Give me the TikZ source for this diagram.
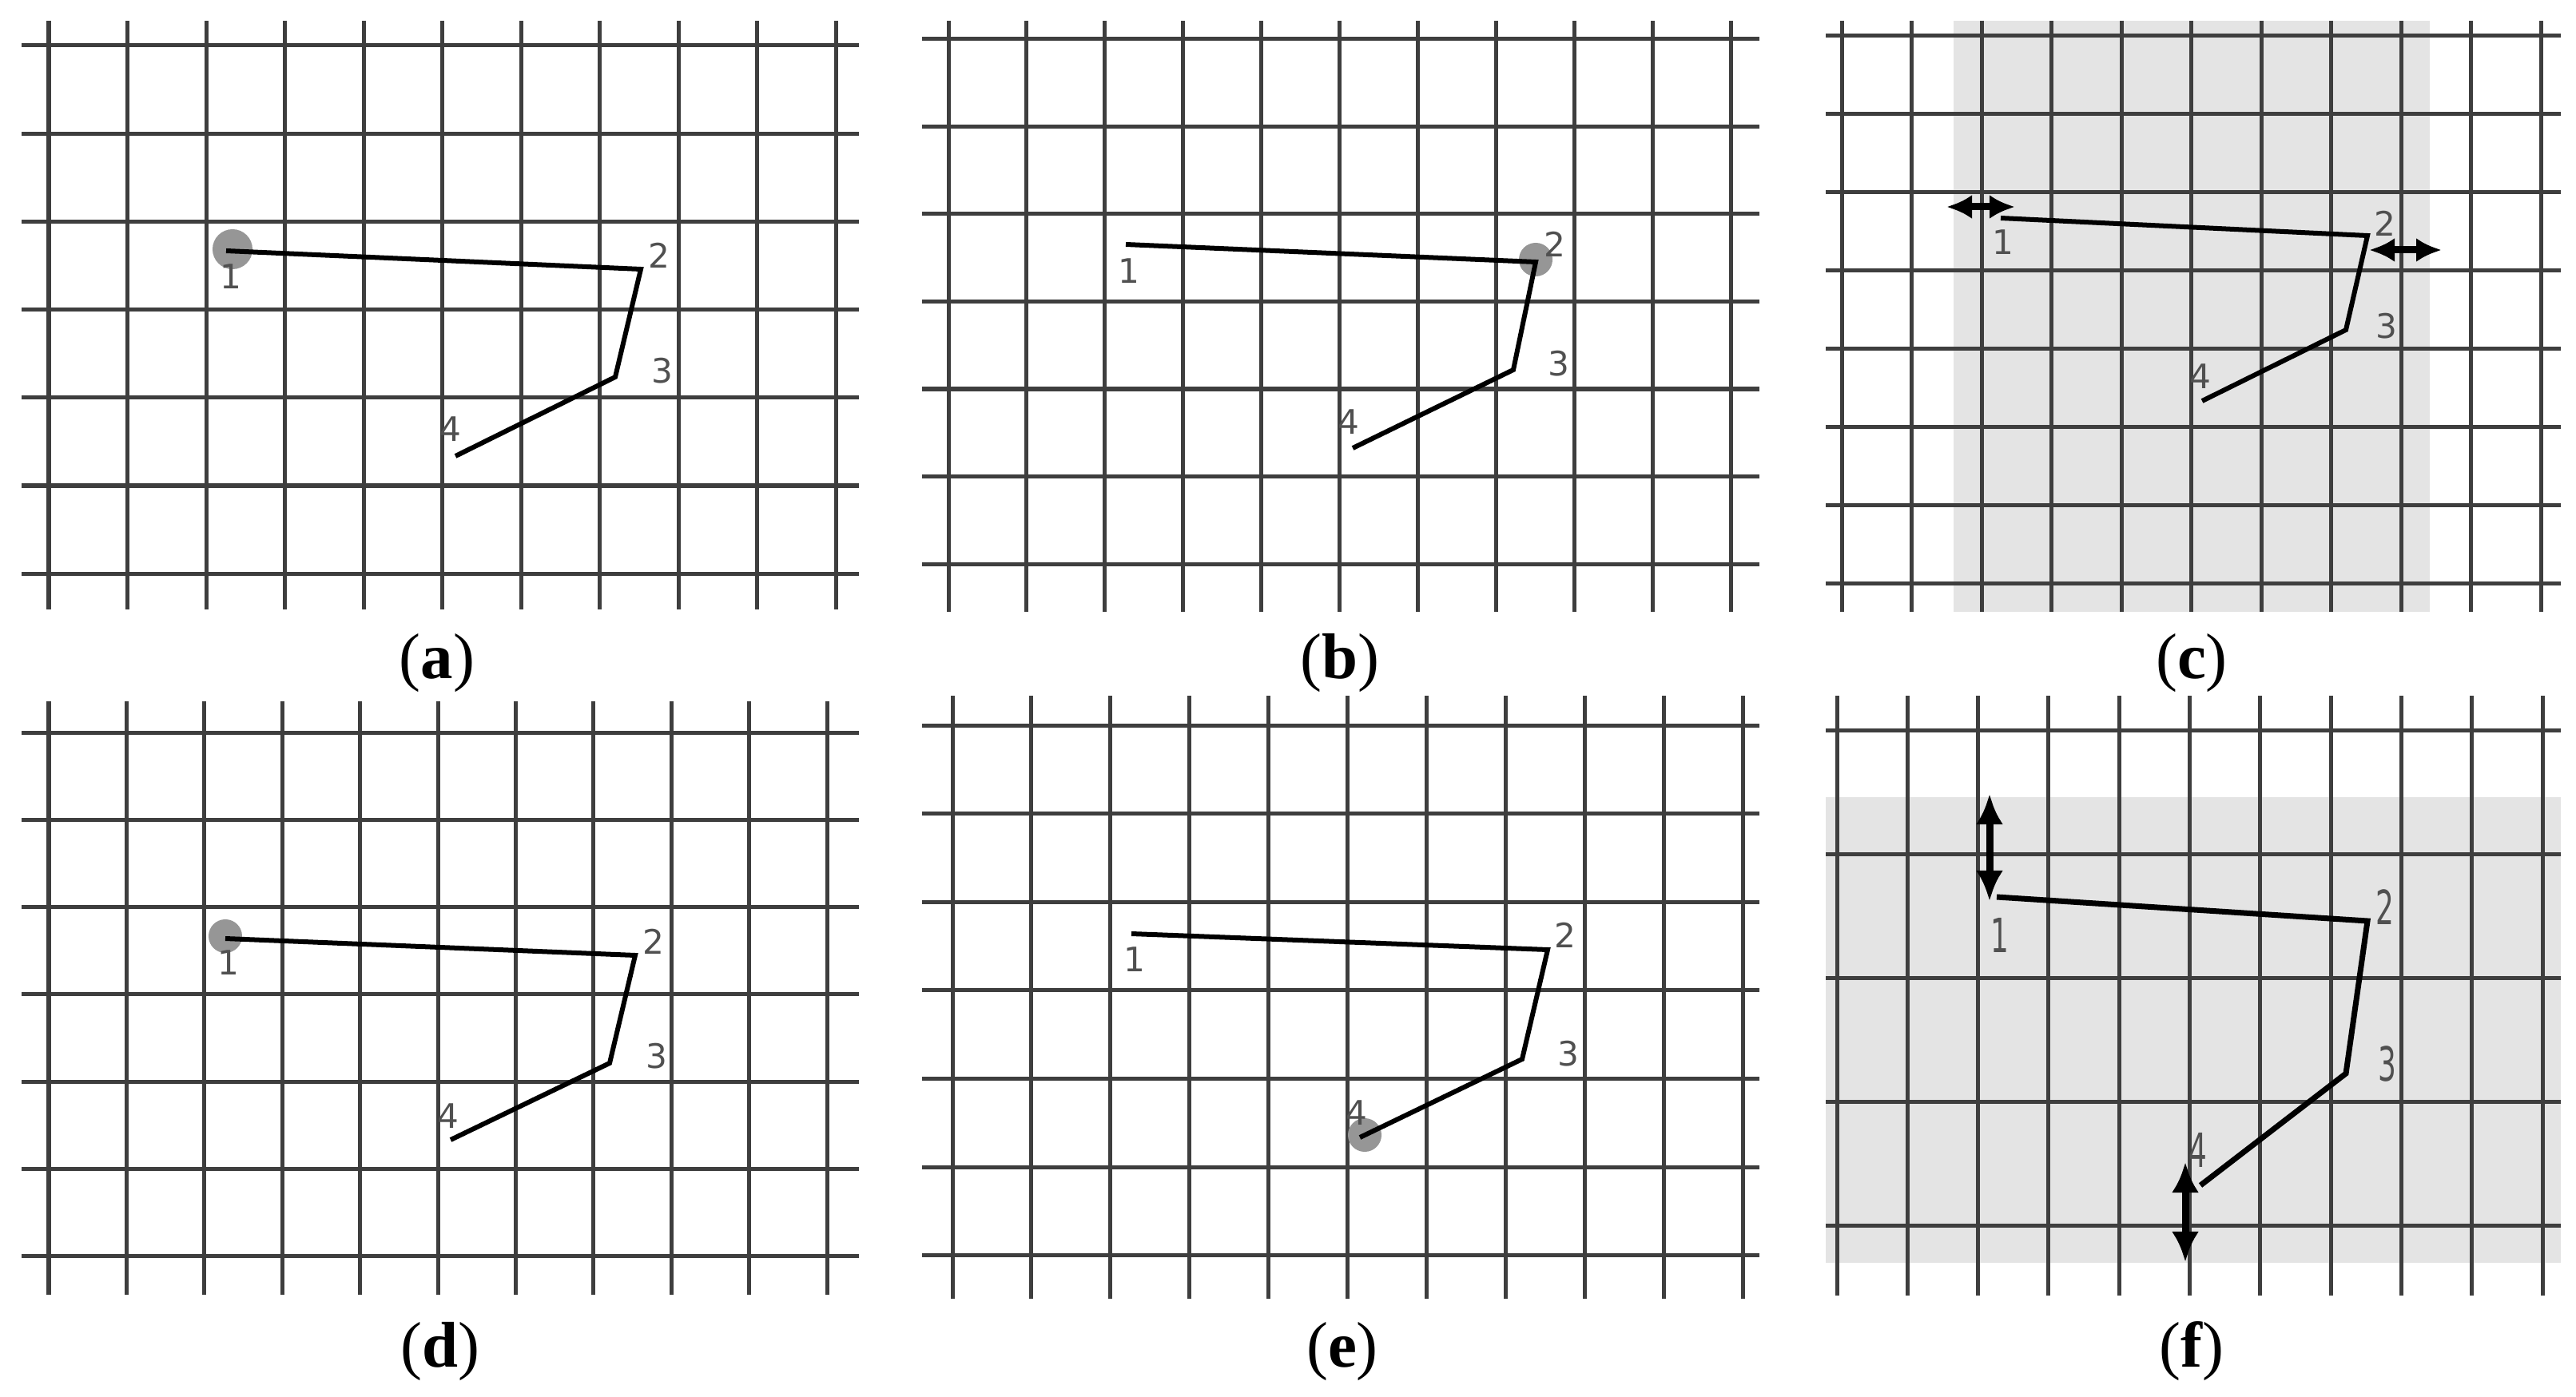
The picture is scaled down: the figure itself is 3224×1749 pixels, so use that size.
\documentclass[tikz,border=0pt]{standalone}
\usepackage{fontspec}
\setmainfont{Liberation Serif}
\newfontfamily\digitfont{DejaVu Sans}
\usepackage{graphicx}
\usepackage{tikz}
\usetikzlibrary{arrows.meta,positioning}
\usepackage{xcolor}
\definecolor{gridgray}{RGB}{62,62,62}
\definecolor{shadegray}{RGB}{228,228,228}
\definecolor{dotgray}{RGB}{150,150,150}
\definecolor{numgray}{RGB}{80,80,80}
\tikzstyle{gridline} = [line width=0.05cm, color=gridgray]
\tikzstyle{route} = [line width=0.06cm, black, line join=miter]
\tikzstyle{cursor} = [circle, fill=dotgray, inner sep=0pt, minimum size=0.5cm]
\tikzstyle{num} = [font=\digitfont\fontsize{12}{14}\selectfont, text=numgray, inner sep=0pt]
\tikzstyle{caption} = [font=\fontsize{23}{26}\selectfont, inner sep=0pt]
\tikzstyle{movearrow} = [line width=0.09cm, {Latex[length=0.32cm,width=0.3cm]}-{Latex[length=0.32cm,width=0.3cm]}]

\begin{document}
\begin{tikzpicture}[x=0.01cm, y=-0.01cm]
\useasboundingbox (0,0) rectangle (3224,1749);

% Shaded zones
\fill[shadegray] (2445,26) rectangle (3041,766);
\fill[shadegray] (2285,998) rectangle (3205,1581);

% Grids
\foreach \i in {0,...,10} \draw[gridline] ({61+98.5*\i},26) -- ({61+98.5*\i},763);
\foreach \j in {0,...,6} \draw[gridline] (27,{57+110.2*\j}) -- (1075,{57+110.2*\j});
\foreach \i in {0,...,10} \draw[gridline] ({1187+97.9*\i},26) -- ({1187+97.9*\i},766);
\foreach \j in {0,...,6} \draw[gridline] (1154,{49+109.5*\j}) -- (2202,{49+109.5*\j});
\foreach \i in {0,...,10} \draw[gridline] ({2305+87.5*\i},26) -- ({2305+87.5*\i},766);
\foreach \j in {0,...,7} \draw[gridline] (2285,{45+97.9*\j}) -- (3205,{45+97.9*\j});
\foreach \i in {0,...,10} \draw[gridline] ({61+97.4*\i},878) -- ({61+97.4*\i},1621);
\foreach \j in {0,...,6} \draw[gridline] (27,{917+109.3*\j}) -- (1075,{917+109.3*\j});
\foreach \i in {0,...,10} \draw[gridline] ({1192+98.9*\i},871) -- ({1192+98.9*\i},1626);
\foreach \j in {0,...,6} \draw[gridline] (1154,{908+110.6*\j}) -- (2202,{908+110.6*\j});
\foreach \i in {0,...,10} \draw[gridline] ({2299+88.3*\i},871) -- ({2299+88.3*\i},1622);
\foreach \j in {0,...,4} \draw[gridline] (2285,{914+155*\j}) -- (3205,{914+155*\j});

% Corner points
\coordinate (a1) at (283,314);
\coordinate (a2) at (802,337);
\coordinate (a3) at (770,472);
\coordinate (a4) at (570,571);
\coordinate (b1) at (1409,306);
\coordinate (b2) at (1922,328);
\coordinate (b3) at (1894,463);
\coordinate (b4) at (1693,561);
\coordinate (c1) at (2504,273);
\coordinate (c2) at (2963,295);
\coordinate (c3) at (2936,413);
\coordinate (c4) at (2756,502);
\coordinate (d1) at (282,1175);
\coordinate (d2) at (795,1196);
\coordinate (d3) at (763,1331);
\coordinate (d4) at (564,1427);
\coordinate (e1) at (1416,1169);
\coordinate (e2) at (1937,1189);
\coordinate (e3) at (1905,1326);
\coordinate (e4) at (1702,1424);
\coordinate (f1) at (2499,1123);
\coordinate (f2) at (2963,1153);
\coordinate (f3) at (2936,1344);
\coordinate (f4) at (2754,1484);

% Selected points
\node (sela) [cursor] at (291,312) {};
\node (selb) [cursor, minimum size=0.42cm] at (1922,325) {};
\node (seld) [cursor, minimum size=0.42cm] at (282,1172) {};
\node (sele) [cursor, minimum size=0.42cm] at (1708,1421) {};

% Routes
\draw[route] (a1) -- (a2) -- (a3) -- (a4);
\draw[route] (b1) -- (b2) -- (b3) -- (b4);
\draw[route] (c1) -- (c2) -- (c3) -- (c4);
\draw[route] (d1) -- (d2) -- (d3) -- (d4);
\draw[route] (e1) -- (e2) -- (e3) -- (e4);
\draw[route, line width=0.07cm] (f1) -- (f2) -- (f3) -- (f4);

% Moves
\coordinate (c1l) at (2436,259);
\coordinate (c1r) at (2522,259);
\coordinate (c2l) at (2965,313);
\coordinate (c2r) at (3056,313);
\coordinate (f1t) at (2490,994);
\coordinate (f1b) at (2490,1128);
\coordinate (f4t) at (2735,1455);
\coordinate (f4b) at (2735,1580);
\draw[movearrow] (c1l) -- (c1r);
\draw[movearrow] (c2l) -- (c2r);
\draw[movearrow, {Latex[length=0.38cm,width=0.34cm]}-{Latex[length=0.38cm,width=0.34cm]}] (f1t) -- (f1b);
\draw[movearrow, {Latex[length=0.38cm,width=0.34cm]}-{Latex[length=0.38cm,width=0.34cm]}] (f4t) -- (f4b);

% Point numbers
\node (na1) [num] at (289,346) {1};
\node (na2) [num] at (825,320) {2};
\node (na3) [num] at (829,464) {3};
\node (na4) [num] at (564,537) {4};
\node (nb1) [num] at (1413,339) {1};
\node (nb2) [num] at (1946,306) {2};
\node (nb3) [num] at (1951,455) {3};
\node (nb4) [num] at (1688,528) {4};
\node (nc1) [num] at (2507,303) {1};
\node (nc2) [num] at (2985,280) {2};
\node (nc3) [num] at (2987,408) {3};
\node (nc4) [num] at (2754,471) {4};
\node (nd1) [num] at (286,1205) {1};
\node (nd2) [num] at (818,1179) {2};
\node (nd3) [num] at (822,1322) {3};
\node (nd4) [num] at (561,1397) {4};
\node (ne1) [num] at (1420,1201) {1};
\node (ne2) [num] at (1959,1171) {2};
\node (ne3) [num] at (1963,1319) {3};
\node (ne4) [num] at (1698,1393) {4};
\node (nf1) [num] at (2503,1171) {\scalebox{0.85}[1.4]{1}};
\node (nf2) [num] at (2985,1136) {\scalebox{0.85}[1.4]{2}};
\node (nf3) [num] at (2988,1332) {\scalebox{0.85}[1.4]{3}};
\node (nf4) [num] at (2751,1440) {\scalebox{0.85}[1.4]{4}};

% Captions
\node (capa) [caption] at (547,830) {({\bfseries a})};
\node (capb) [caption] at (1677,830) {({\bfseries b})};
\node (capc) [caption] at (2743,830) {({\bfseries c})};
\node (capd) [caption] at (551,1692) {({\bfseries d})};
\node (cape) [caption] at (1680,1692) {({\bfseries e})};
\node (capf) [caption] at (2743,1692) {({\bfseries f})};
\end{tikzpicture}
\end{document}
